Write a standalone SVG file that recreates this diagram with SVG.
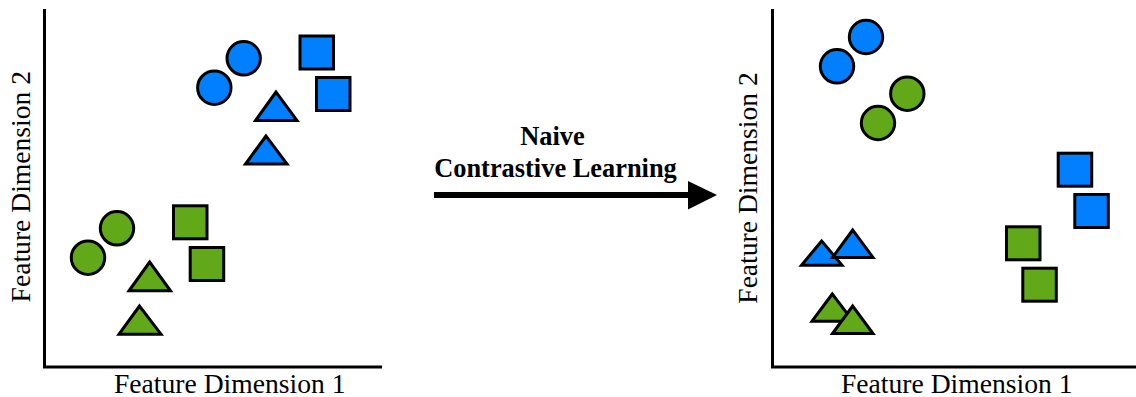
<svg xmlns="http://www.w3.org/2000/svg" width="1136" height="397" viewBox="0 0 1136 397">
<style>
.b{fill:#0080FF;stroke:#000;stroke-width:3;stroke-linejoin:miter}
.g{fill:#62A91A;stroke:#000;stroke-width:3;stroke-linejoin:miter}
.ax{stroke:#000;stroke-width:3;fill:none}
.lbl{font-family:"Liberation Serif","Times New Roman",serif;font-size:27.6px;fill:#000}
.ttl{font-family:"Liberation Serif","Times New Roman",serif;font-size:26.4px;font-weight:bold;fill:#000;text-anchor:middle}
</style>
<rect width="1136" height="397" fill="#fff"/>
<g id="left-panel">
  <g id="left-axes">
    <path class="ax" d="M44.5,9 V368.5 M43,367 H382"/>
    <text class="lbl" x="114" y="393">Feature Dimension 1</text>
    <text class="lbl" text-anchor="middle" transform="translate(29.5,186.7) rotate(-90)">Feature Dimension 2</text>
  </g>
  <g id="left-blue">
    <circle class="b" cx="243.7" cy="58.3" r="16.7"/>
    <circle class="b" cx="214.3" cy="87.7" r="16.7"/>
    <rect class="b" x="300" y="36" width="33.5" height="33"/>
    <rect class="b" x="316.5" y="77.5" width="33.5" height="33"/>
    <polygon class="b" points="276,92 255.5,120.5 297,120.5"/>
    <polygon class="b" points="266,136 245.5,164 287,164"/>
  </g>
  <g id="left-green">
    <circle class="g" cx="117" cy="228.3" r="16.7"/>
    <circle class="g" cx="88" cy="257.7" r="16.7"/>
    <rect class="g" x="173.5" y="205.8" width="33.5" height="33"/>
    <rect class="g" x="190.2" y="247.5" width="33.5" height="33"/>
    <polygon class="g" points="149.7,262 129,290.8 170.5,290.8"/>
    <polygon class="g" points="139.5,306 119,334.2 161,334.2"/>
  </g>
</g>
<g id="connectors">
  <g id="arrow">
    <line x1="434" y1="195" x2="690" y2="195" stroke="#000" stroke-width="6"/>
    <polygon points="688,181 717,195 688,209.5" fill="#000"/>
    <text class="ttl" x="552.5" y="145">Naive</text>
    <text class="ttl" x="555.5" y="177">Contrastive Learning</text>
  </g>
</g>
<g id="right-panel">
  <g id="right-axes">
    <path class="ax" d="M772.5,9 V368.5 M771,367 H1136"/>
    <text class="lbl" x="841" y="393">Feature Dimension 1</text>
    <text class="lbl" text-anchor="middle" transform="translate(756.7,188) rotate(-90)">Feature Dimension 2</text>
  </g>
  <g id="right-circles">
    <circle class="b" cx="866" cy="37" r="16.7"/>
    <circle class="b" cx="837" cy="66.3" r="16.7"/>
    <circle class="g" cx="907.3" cy="93.7" r="16.7"/>
    <circle class="g" cx="878" cy="123" r="16.7"/>
  </g>
  <g id="right-squares">
    <rect class="b" x="1058.2" y="153.2" width="33.5" height="33"/>
    <rect class="b" x="1074.8" y="194.5" width="33.5" height="33"/>
    <rect class="g" x="1006.5" y="226.8" width="33.5" height="33"/>
    <rect class="g" x="1022.8" y="268.2" width="33.5" height="33"/>
  </g>
  <g id="right-triangles">
    <polygon class="b" points="821.7,241 801.5,265.2 842,265.2"/>
    <polygon class="b" points="852.7,230 832.5,257.5 873,257.5"/>
    <polygon class="g" points="832.3,294 812,321.2 853,321.2"/>
    <polygon class="g" points="852.7,306 832.5,333.5 873,333.5"/>
  </g>
</g>
</svg>
